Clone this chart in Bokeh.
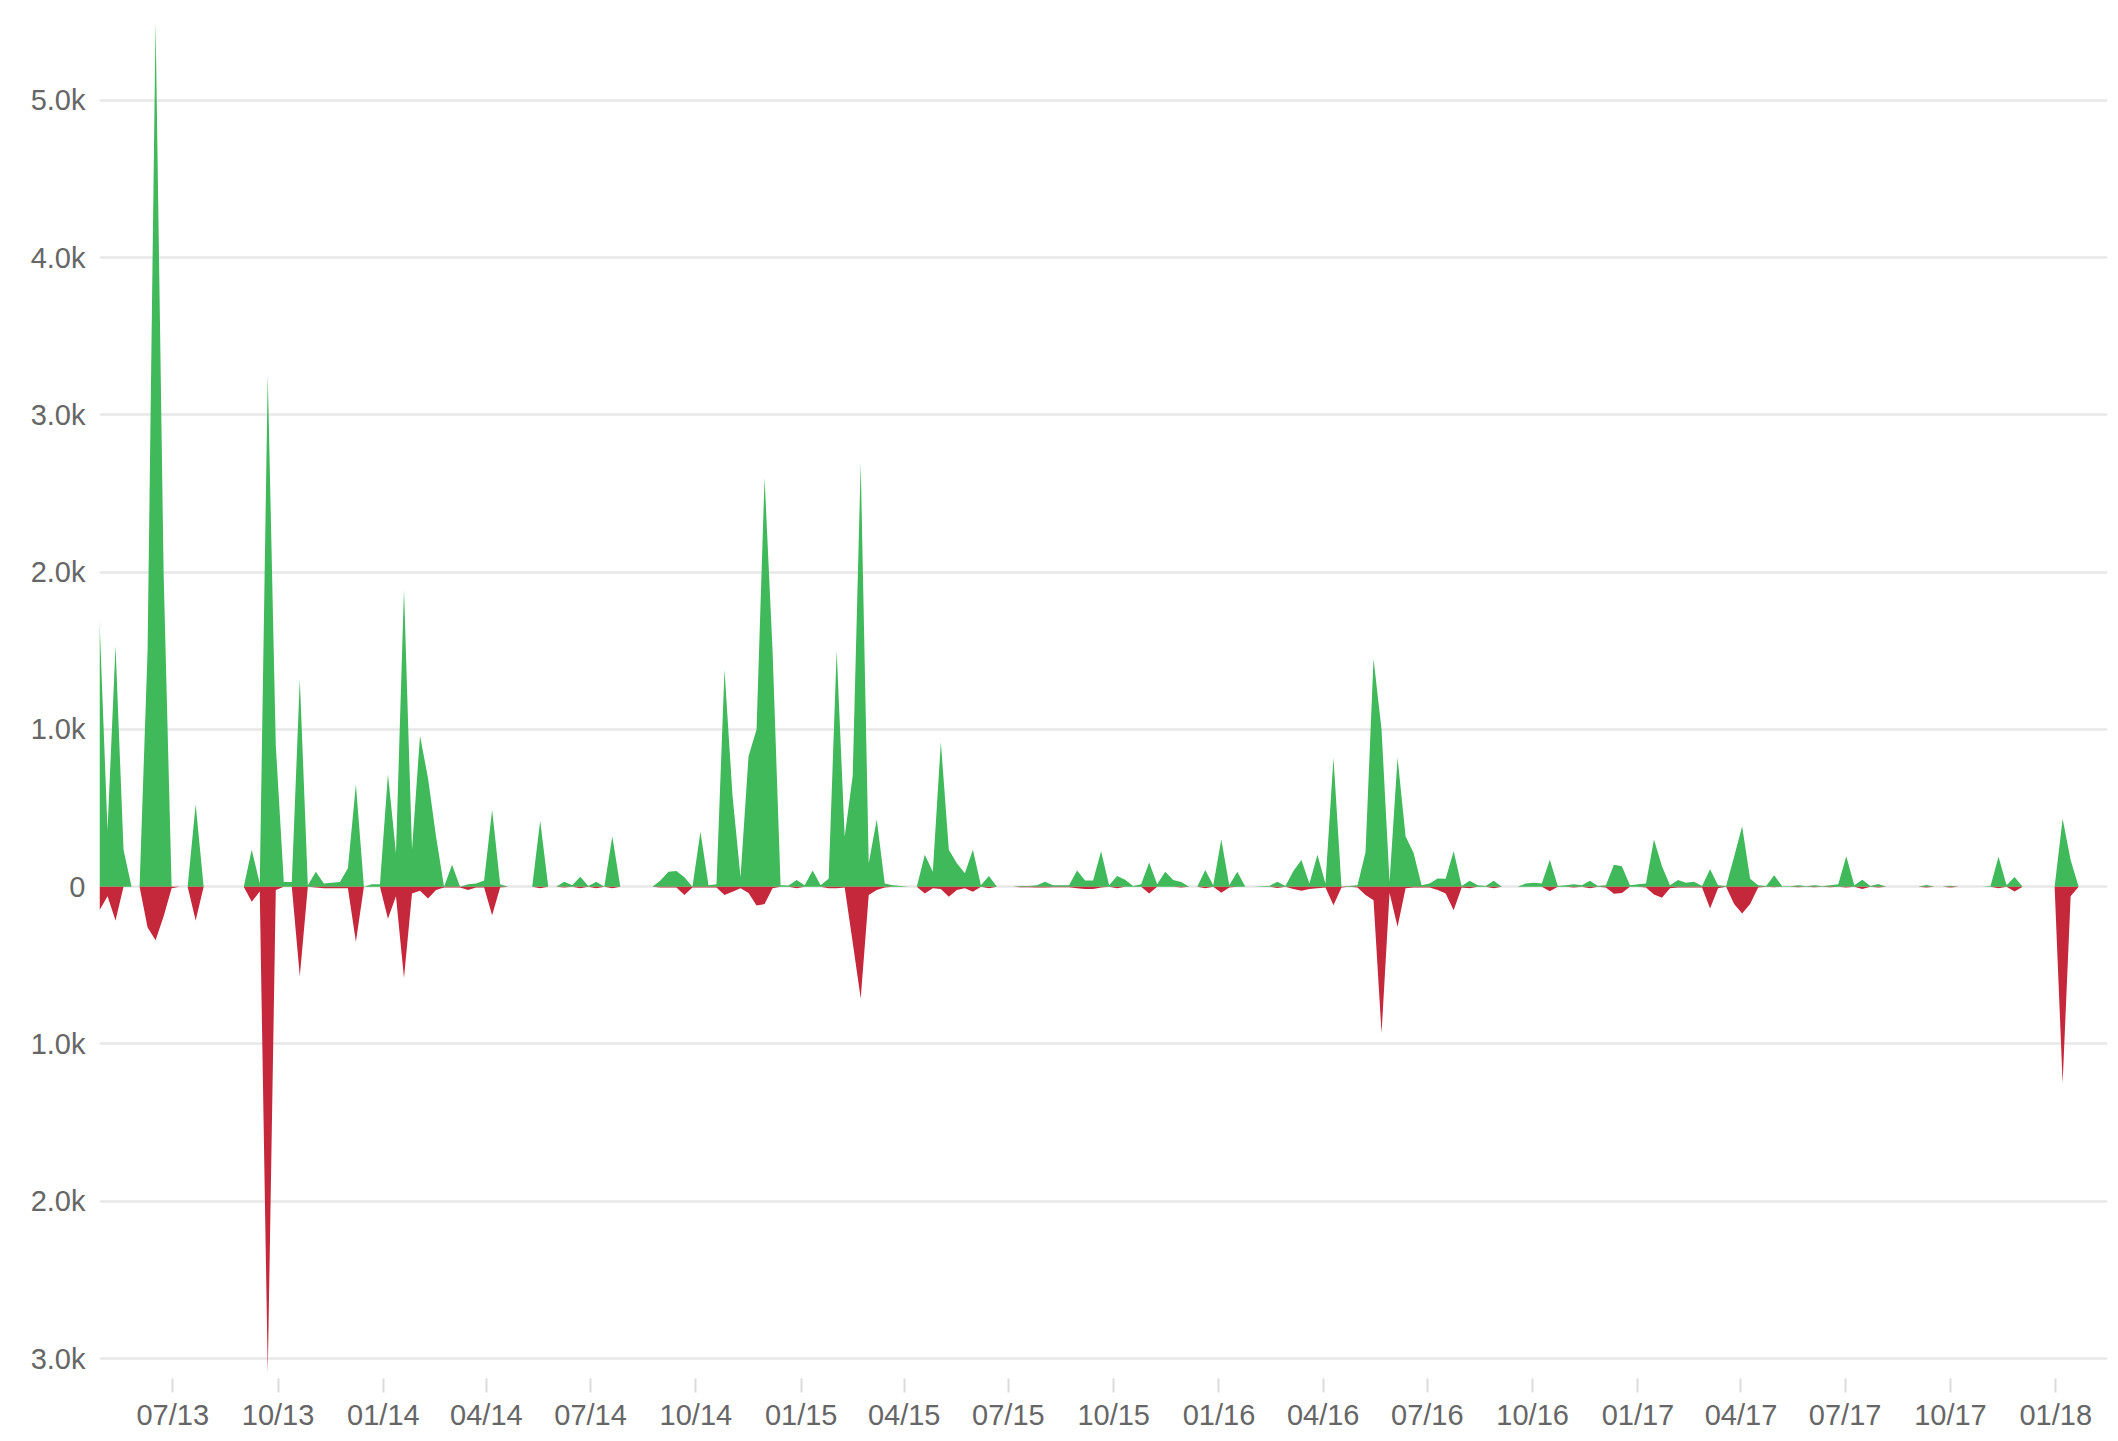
import pandas as pd
from bokeh.plotting import figure
from bokeh.models import Range1d, FixedTicker, ColumnDataSource, DatetimeTickFormatter
from bokeh.embed import file_html
from bokeh.resources import INLINE

# weekly series starting 2013-04-28
start_date = "2013-04-28"

inflow = [
    1700, 360, 1530, 235, 0, 0, 1500, 5500, 2000, 0,
    0, 0, 525, 0, 0, 0, 0, 0, 0, 235,
    20, 3250, 900, 30, 30, 1320, 10, 96, 20, 25,
    30, 118, 650, 0, 15, 15, 715, 214, 1890, 235,
    960, 690, 320, 0, 139, 0, 15, 20, 40, 490,
    15, 0, 0, 0, 0, 420, 0, 0, 32, 10,
    64, 5, 32, 0, 320, 0, 0, 0, 0, 0,
    40, 95, 100, 60, 0, 350, 10, 15, 1380, 580,
    60, 830, 1000, 2600, 1500, 10, 8, 43, 10, 103,
    10, 50, 1500, 320, 706, 2690, 150, 428, 20, 10,
    5, 0, 0, 203, 96, 920, 235, 150, 86, 235,
    10, 68, 0, 0, 0, 5, 5, 10, 32, 10,
    10, 10, 103, 40, 40, 225, 10, 68, 45, 5,
    15, 154, 15, 96, 43, 30, 0, 0, 107, 10,
    300, 10, 96, 0, 0, 3, 5, 32, 5, 100,
    170, 20, 203, 20, 820, 0, 5, 10, 220, 1450,
    1000, 30, 820, 321, 214, 10, 20, 53, 50, 225,
    5, 38, 10, 5, 38, 0, 0, 0, 20, 25,
    20, 171, 5, 10, 15, 10, 38, 5, 10, 139,
    130, 10, 15, 20, 300, 130, 10, 43, 25, 32,
    5, 111, 10, 5, 190, 385, 50, 10, 5, 73,
    3, 3, 10, 3, 10, 3, 10, 15, 194, 10,
    44, 5, 18, 0, 0, 0, 0, 0, 11, 0,
    0, 7, 0, 0, 0, 0, 5, 190, 10, 62,
    0, 0, 0, 0, 0, 433, 170, 0,
]

outflow = [
    150, 60, 214, 0, 0, 0, 260, 340, 190, 10,
    0, 0, 214, 0, 0, 0, 0, 0, 0, 96,
    30, 3090, 20, 0, 0, 570, 0, 5, 10, 10,
    10, 10, 350, 0, 0, 0, 203, 60, 580, 43,
    25, 75, 21, 5, 5, 5, 21, 5, 5, 182,
    5, 0, 0, 0, 0, 10, 0, 0, 5, 0,
    10, 0, 10, 0, 10, 0, 0, 0, 0, 0,
    5, 5, 5, 53, 5, 5, 5, 5, 53, 32,
    10, 40, 120, 110, 10, 0, 0, 10, 0, 0,
    0, 10, 10, 5, 355, 710, 53, 20, 5, 0,
    0, 0, 0, 43, 10, 15, 64, 21, 10, 32,
    0, 10, 0, 0, 0, 3, 3, 5, 5, 3,
    3, 3, 10, 15, 15, 5, 0, 10, 0, 0,
    0, 43, 0, 0, 0, 5, 0, 0, 10, 0,
    38, 5, 0, 0, 0, 0, 0, 8, 0, 15,
    25, 15, 10, 5, 118, 5, 0, 5, 53, 86,
    930, 40, 255, 10, 5, 5, 5, 20, 43, 150,
    5, 10, 0, 0, 10, 0, 0, 0, 0, 0,
    0, 28, 0, 0, 5, 0, 10, 0, 5, 45,
    40, 0, 0, 5, 50, 70, 10, 5, 5, 5,
    5, 139, 10, 0, 110, 170, 110, 5, 0, 3,
    0, 0, 3, 0, 3, 0, 3, 0, 5, 0,
    15, 0, 5, 0, 0, 0, 0, 0, 5, 0,
    0, 5, 0, 0, 0, 0, 0, 9, 0, 31,
    0, 0, 0, 0, 0, 1250, 60, 0,
]

x_tick_dates = ["2013-07-01", "2013-10-01", "2014-01-01", "2014-04-01", "2014-07-01",
                "2014-10-01", "2015-01-01", "2015-04-01", "2015-07-01", "2015-10-01",
                "2016-01-01", "2016-04-01", "2016-07-01", "2016-10-01", "2017-01-01",
                "2017-04-01", "2017-07-01", "2017-10-01", "2018-01-01"]
y_ticks = [-3000, -2000, -1000, 0, 1000, 2000, 3000, 4000, 5000]
y_tick_labels = ["3.0k", "2.0k", "1.0k", "0", "1.0k", "2.0k", "3.0k", "4.0k", "5.0k"]

GREEN = "#3fb95a"
RED = "#c6283b"
LABEL = "#666666"
FONT = "Liberation Sans"

dates = pd.date_range(start_date, periods=len(inflow), freq="7D")
src = ColumnDataSource(dict(
    date=dates,
    pos=inflow,
    neg=[-v for v in outflow],
))

x_start = pd.Timestamp(start_date)
x_end = x_start + pd.Timedelta(days=1754.2)

p = figure(width=2112, height=1433, x_axis_type="datetime",
           output_backend="svg", toolbar_location=None,
           x_range=Range1d(x_start, x_end), y_range=Range1d(-3127, 5559),
           min_border_left=99, min_border_right=5, min_border_top=12, min_border_bottom=53)
p.outline_line_color = None
p.background_fill_color = "white"
p.border_fill_color = "white"

p.varea(x="date", y1=0, y2="pos", source=src, fill_color=GREEN)
p.varea(x="date", y1=0, y2="neg", source=src, fill_color=RED)

# y axis
yt = FixedTicker(ticks=y_ticks)
p.yaxis.ticker = yt
p.ygrid.ticker = yt
p.yaxis.major_label_overrides = {t: l for t, l in zip(y_ticks, y_tick_labels)}
p.yaxis.axis_line_color = None
p.yaxis.major_tick_line_color = None
p.yaxis.minor_tick_line_color = None
p.yaxis.major_tick_in = 0
p.yaxis.major_tick_out = 0
p.yaxis.major_label_standoff = 14
p.yaxis.major_label_text_font = FONT
p.yaxis.major_label_text_font_size = "29px"
p.yaxis.major_label_text_color = LABEL

p.ygrid.grid_line_color = "#e8e8e8"
p.ygrid.grid_line_width = 2.5
p.xgrid.grid_line_color = None

# x axis
xt_ms = [pd.Timestamp(d).value // 10**6 for d in x_tick_dates]
p.xaxis.ticker = FixedTicker(ticks=xt_ms)
fmt = "%m/%y"
p.xaxis.formatter = DatetimeTickFormatter(milliseconds=fmt, seconds=fmt, minsec=fmt, minutes=fmt,
                                          hourmin=fmt, hours=fmt, days=fmt, months=fmt, years=fmt)
p.xaxis.axis_line_color = None
p.xaxis.major_tick_line_color = "#dcdcdc"
p.xaxis.major_tick_line_width = 2
p.xaxis.minor_tick_line_color = None
p.xaxis.major_tick_in = 0
p.xaxis.major_tick_out = 14
p.xaxis.major_label_standoff = 6
p.xaxis.major_label_text_font = FONT
p.xaxis.major_label_text_font_size = "29px"
p.xaxis.major_label_text_color = LABEL

open("out.html", "w").write(file_html(p, INLINE))
